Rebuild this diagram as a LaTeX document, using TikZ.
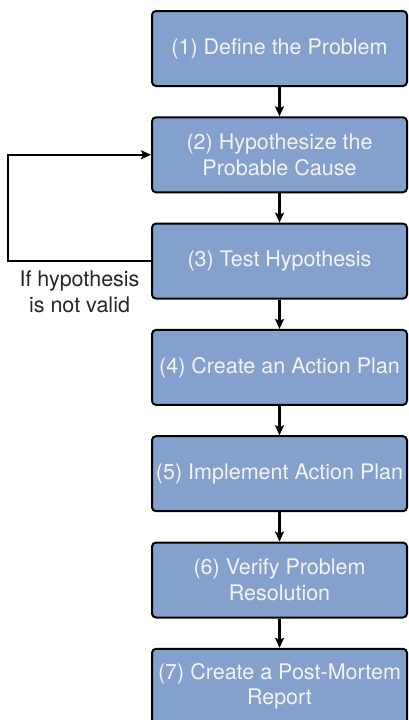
\documentclass[tikz,border=0pt]{standalone}
\usepackage{fontspec}
\setmainfont{TeX Gyre Heros}
\usetikzlibrary{positioning,arrows.meta}
\definecolor{stagefill}{RGB}{131,161,204}
\definecolor{stagetext}{RGB}{242,244,248}
\tikzset{
  stage/.style={draw,line width=2pt,rounded corners=4pt,fill=stagefill,text=stagetext,minimum width=255pt,minimum height=75pt,align=center,font=\fontsize{21.5}{25.5}\selectfont},
  arr/.style={-{Stealth[length=10pt,width=9pt,inset=2pt]},line width=2.1pt}
}

\begin{document}
\begin{tikzpicture}[node distance=29.3pt,x=1pt,y=1pt]
\useasboundingbox (0,0) rectangle (409,-720);

\node[stage] (define) at (279.5,-48.5) {(1) Define the Problem};
\node[stage,below=of define] (cause) {(2) Hypothesize the\\Probable Cause};
\node[stage,below=of cause] (test) {(3) Test Hypothesis};
\node[stage,below=of test] (plan) {(4) Create an Action Plan};
\node[stage,below=of plan] (implement) {(5) Implement Action Plan};
\node[stage,below=of implement] (verify) {(6) Verify Problem\\Resolution};
\node[stage,below=of verify] (report) {(7) Create a Post-Mortem\\Report};

\draw[arr] (define) -- (cause);
\draw[arr] (cause) -- (test);
\draw[arr] (test) -- (plan);
\draw[arr] (plan) -- (implement);
\draw[arr] (implement) -- (verify);
\draw[arr] (verify) -- (report);

% back to step 2 when the test fails
\draw[arr] (test.west) -- node[below=5pt,align=center,text=black!85,font=\fontsize{21.5}{26}\selectfont] {If hypothesis\\is not valid} ++(-143,0) |- (cause.west);

\end{tikzpicture}
\end{document}
